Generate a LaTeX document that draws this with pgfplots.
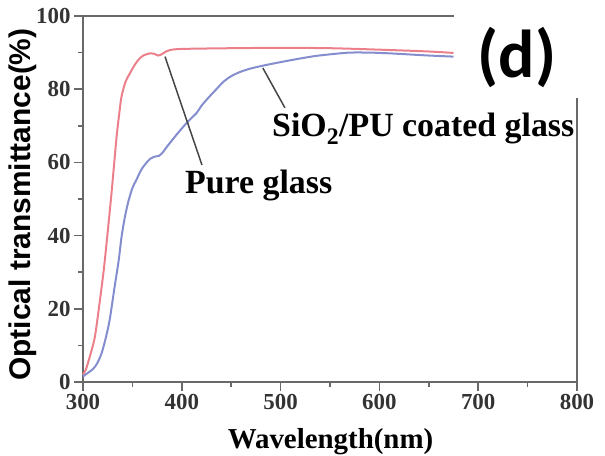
\documentclass[border=0pt]{standalone}
\usepackage{pgfplots}
\pgfplotsset{compat=1.18}
\usepackage{fontspec}
\setmainfont{Liberation Serif}
\newfontfamily\labsans{Liberation Sans}
\newfontfamily\dfont{Carlito}
\definecolor{redc}{RGB}{236,128,138}
\definecolor{bluec}{RGB}{132,142,206}
\definecolor{axgray}{RGB}{105,105,105}
\definecolor{leadc}{RGB}{70,70,70}
\begin{document}
\begin{tikzpicture}
\path (0bp,0bp) (605bp,456bp);
\begin{axis}[
  at={(83bp,74bp)}, anchor=south west,
  scale only axis, width=494bp, height=366bp,
  xmin=300, xmax=800, ymin=0, ymax=100,
  axis x line*=bottom, axis y line*=left,
  axis line style={-, axgray, line width=1.8bp},
  xtick={300,400,...,800}, ytick={0,20,...,100},
  minor x tick num=1, minor y tick num=1,
  xtick align=outside, ytick align=outside,
  major tick length=9bp, minor tick length=5bp,
  tick style={axgray, line width=1.5bp},
  every tick label/.append style={font=\bfseries\fontsize{23}{23}\selectfont, text=black!80},
  /pgf/number format/assume math mode=true,
  clip=false,
]
\addplot[redc, line width=2bp, smooth, tension=0.5] coordinates {
(300,2) (303,3.5) (305,5.2) (308,8) (312,12.3) (316,20) (321,30.6) (325,41)
(329,52) (331,58) (334,67) (337,74) (339,78) (343,82) (347.6,84.4) (352,86.5)
(356,88) (361,89.2) (368,89.8) (372,89.7) (376,89.2) (380,89.6) (384,90.3)
(388,90.7) (400,91.0) (450,91.2) (500,91.3) (550,91.2) (600,90.8) (650,90.3) (675,89.9)
};
\addplot[bluec, line width=2bp, smooth, tension=0.5] coordinates {
(300,1.5) (305,2.5) (310,3.5) (313,4.5) (316,6) (319,8) (323,12) (327,17)
(332,26) (336,33) (339,39.6) (342,44.5) (345.5,48.9) (350,53) (354,55.2)
(359,58) (363,59.5) (368,61) (373,61.6) (377,61.8) (380,62.5) (385,64.3)
(390,66) (396,68) (403,70.2) (410,72.2) (415,73.5) (420,75.5) (428,78)
(435,80) (442,82) (449,83.4) (458,84.6) (469,85.6) (485,86.6) (502,87.5)
(520,88.4) (536,89.1) (553,89.6) (570,90.0) (590,90.0) (610,89.8) (630,89.5)
(650,89.2) (675,88.9)
};
% tick marks drawn as short quiver segments
\addplot[axgray, line width=1.5bp, mark=none, quiver={u=0,v=-2.3}] coordinates {
(300,0) (400,0) (500,0) (600,0) (700,0) (800,0)};
\addplot[axgray, line width=1.5bp, mark=none, quiver={u=0,v=-1.2}] coordinates {
(350,0) (450,0) (550,0) (650,0) (750,0)};
\addplot[axgray, line width=1.5bp, mark=none, quiver={u=-8,v=0}] coordinates {
(300,0) (300,20) (300,40) (300,60) (300,80) (300,100)};
\addplot[axgray, line width=1.5bp, mark=none, quiver={u=-4.5,v=0}] coordinates {
(300,10) (300,30) (300,50) (300,70) (300,90)};
\draw[axgray, line width=1.8bp, line cap=rect] (axis cs:675,100) -- (axis cs:300,100);
\draw[axgray, line width=1.8bp] (axis cs:800,0) -- (axis cs:800,77.6);
\draw[leadc, line width=1.5bp] (axis cs:383,88.9) -- (axis cs:420.4,59.3);
\draw[leadc, line width=1.5bp] (axis cs:482,85.8) -- (axis cs:504.4,74.9);
\end{axis}
\node[anchor=base west, inner sep=0pt, font=\bfseries\fontsize{34}{34}\selectfont] at (185bp,262bp) {Pure glass};
\node[anchor=base west, inner sep=0pt, font=\bfseries\fontsize{34}{34}\selectfont] at (272bp,319bp) {SiO\textsubscript{2}/PU coated glass};
\node[inner sep=0pt, font=\dfont\bfseries\fontsize{68}{68}\selectfont] at (517bp,399bp) {(d)};
\node[anchor=base, inner sep=0pt, font=\bfseries\fontsize{29}{29}\selectfont] at (330.5bp,8bp) {Wavelength(nm)};
\node[rotate=90, inner sep=0pt, font=\labsans\bfseries\fontsize{30}{30}\selectfont] at (23bp,251.5bp) {Optical transmittance(\%)};
\end{tikzpicture}
\end{document}
